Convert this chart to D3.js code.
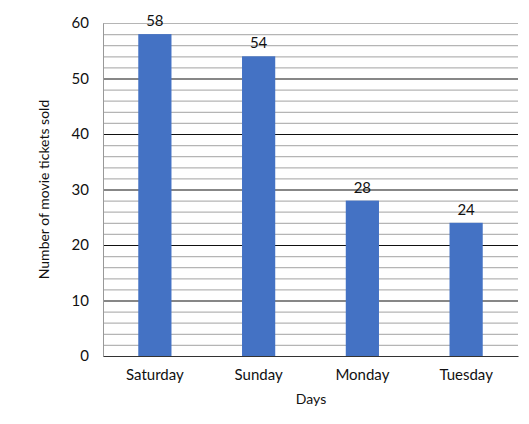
<!DOCTYPE html>
<html><head><meta charset="utf-8">
<script src="https://cdn.jsdelivr.net/npm/d3@7"></script>
<style>body{margin:0;background:#fff;} text{font-family:Lato,"Open Sans",sans-serif;}</style>
</head><body><svg id="c" width="529" height="424"></svg>
<script>
const categories = ["Saturday","Sunday","Monday","Tuesday"];
const values = [58,54,28,24];
const yTicks = [0,10,20,30,40,50,60];
const xTitle = "Days";
const yTitle = "Number of movie tickets sold";

const svg = d3.select("#c");
const m = {l:103, r:11, t:23, b:68};
const W = 529, H = 424;
const x = d3.scaleBand().domain(categories).range([m.l, W-m.r]).paddingInner(0.68).paddingOuter(0.34);
const y = d3.scaleLinear().domain([0,60]).range([H-m.b, m.t]);

const minor = d3.range(2, 61, 2).filter(v => v % 10 !== 0 || v === 60);
svg.append("g").selectAll("line").data(minor).join("line")
  .attr("x1", m.l).attr("x2", W-m.r).attr("y1", d=>y(d)+0.5).attr("y2", d=>y(d)+0.5)
  .attr("stroke", "#b5b5b5").attr("stroke-width", 1.2);
svg.append("g").selectAll("line").data(yTicks.filter(v=>v>0 && v<60)).join("line")
  .attr("x1", m.l).attr("x2", W-m.r).attr("y1", d=>y(d)+0.5).attr("y2", d=>y(d)+0.5)
  .attr("stroke", "#111").attr("stroke-width", 1.2);

const ya = svg.append("g").attr("transform",`translate(${m.l},0)`)
  .call(d3.axisLeft(y).tickValues(yTicks).tickSize(0).tickPadding(14));
ya.select(".domain").attr("stroke","#999");
ya.selectAll("text").attr("font-size",15).attr("fill","#111").style("font-family","Lato,'Open Sans',sans-serif");

svg.selectAll("rect.bar").data(values).join("rect").attr("class","bar")
  .attr("x",(d,i)=>x(categories[i])).attr("width",x.bandwidth())
  .attr("y",d=>y(d)).attr("height",d=>y(0)-y(d)).attr("fill","#4472C4");

const xa = svg.append("g").attr("transform",`translate(0,${y(0)})`)
  .call(d3.axisBottom(x).tickSize(0).tickPadding(13));
xa.select(".domain").attr("stroke","#333").attr("stroke-width",1.2);
xa.selectAll("text").attr("font-size",15).attr("fill","#111").style("font-family","Lato,'Open Sans',sans-serif");

svg.selectAll("text.val").data(values).join("text").attr("class","val")
  .attr("x",(d,i)=>x(categories[i])+x.bandwidth()/2).attr("y",d=>y(d)-8)
  .attr("text-anchor","middle").attr("font-size",15).attr("fill","#111").text(d=>d);

svg.append("text").attr("x",311).attr("y",404).attr("text-anchor","middle")
  .attr("font-size",14).attr("fill","#111").text(xTitle);
svg.append("text").attr("transform",`translate(49,${(y(0)+y(60))/2}) rotate(-90)`)
  .attr("text-anchor","middle").attr("font-size",14).attr("fill","#111").text(yTitle);
</script></body></html>
